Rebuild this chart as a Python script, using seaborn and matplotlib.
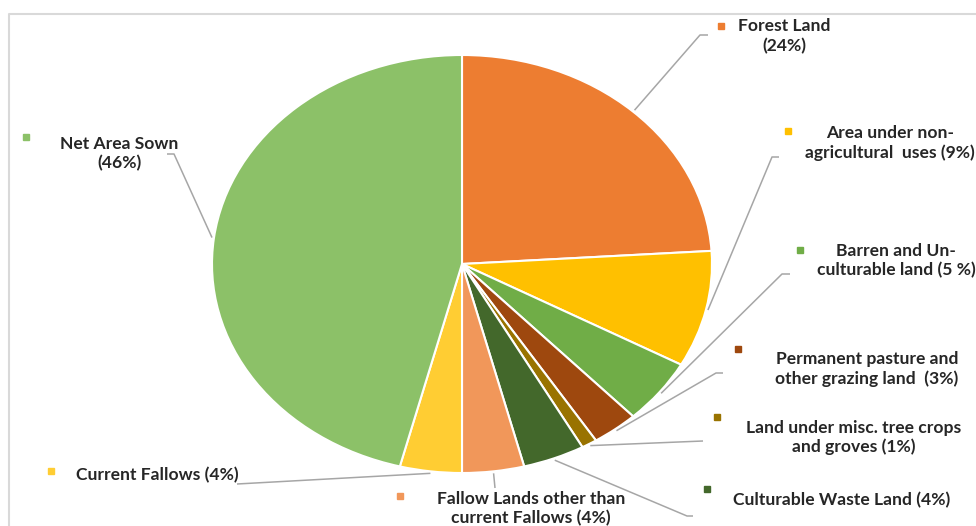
import numpy as np
import matplotlib
matplotlib.use("Agg")
import matplotlib.pyplot as plt
import seaborn as sns

# ---- data ----
categories = ["Forest Land", "Area under non-agricultural uses", "Barren and Un-culturable land",
              "Permanent pasture and other grazing land", "Land under misc. tree crops and groves",
              "Culturable Waste Land", "Fallow Lands other than current Fallows",
              "Current Fallows", "Net Area Sown"]
values = [24, 9, 5, 3, 1, 4, 4, 4, 46]
label_lines = [
    ["Forest Land", "(24%)"],
    ["Area under non-", "agricultural  uses (9%)"],
    ["Barren and Un-", "culturable land (5 %)"],
    ["Permanent pasture and", "other grazing land  (3%)"],
    ["Land under misc. tree crops", "and groves (1%)"],
    ["Culturable Waste Land (4%)"],
    ["Fallow Lands other than", "current Fallows (4%)"],
    ["Current Fallows (4%)"],
    ["Net Area Sown", "(46%)"],
]
palette = ["#ED7D31", "#FFC000", "#70AD47", "#9E480E", "#997300",
           "#43682B", "#F1975A", "#FFCD33", "#8CC168"]

sns.set_theme(style="white")
plt.rcParams["font.family"] = ["Lato", "DejaVu Sans"]

W, H = 976, 526
fig = plt.figure(figsize=(W / 100, H / 100), dpi=100)

# pie geometry in pixels (elliptical pie)
cx, cy, rx, ry = 462, 264, 250, 209
pie_ax = fig.add_axes([(cx - rx) / W, (H - (cy + ry)) / H, 2 * rx / W, 2 * ry / H])
wedges, _ = pie_ax.pie(values, colors=palette, startangle=90, counterclock=False,
                       wedgeprops=dict(edgecolor="white", linewidth=1.5))
pie_ax.set_aspect("auto")
pie_ax.set_xlim(-1, 1)
pie_ax.set_ylim(-1, 1)
pie_ax.axis("off")

# overlay in pixel coordinates
ov = fig.add_axes([0, 0, 1, 1], facecolor="none")
ov.set_xlim(0, W)
ov.set_ylim(H, 0)
ov.axis("off")

# chart frame (partially visible)
ov.plot([9, 9, W + 5], [H + 5, 13.5, 13.5], color="#D9D9D9", lw=1.5, clip_on=False)

# label layout: (center x, first line y, line gap, marker x, marker y, leader elbow points)
layout = [
    (784, 26, 20, 721, 26, [(708, 35), (700, 35)]),
    (890, 133, 20, 788, 131, [(779, 157), (772, 157)]),
    (896, 251, 19, 800, 250, [(790, 274), (782, 274)]),
    (867, 359, 20, 738, 349, [(723, 373), (716, 373)]),
    (854, 428, 19, 717, 417, [(703, 441)]),
    (842, 500, 20, 707, 489, [(693, 516), (687, 516)]),
    (531, 499, 19, 400, 496, [(495, 488)]),
    (157, 475, 20, 51, 471, [(237, 484)]),
    (119, 144, 19, 26, 137, [(167, 154), (174, 154)]),
]

leader_color = "#A6A6A6"
for w, lines, (tx, ty, gap, mx, my, elbow), col in zip(wedges, label_lines, layout, palette):
    ang = np.deg2rad((w.theta1 + w.theta2) / 2)
    px = cx + (rx + 2) * np.cos(ang)
    py = cy - (ry + 2) * np.sin(ang)
    xs = [p[0] for p in elbow] + [px]
    ys = [p[1] for p in elbow] + [py]
    ov.plot(xs, ys, color=leader_color, lw=1.1, solid_capstyle="butt")
    ov.plot([mx], [my], marker="s", markersize=5, color=col, linestyle="none")
    for i, line in enumerate(lines):
        ov.text(tx, ty + i * gap, line, ha="center", va="center", fontsize=12.6,
                fontweight="bold", color="#262626")

fig.savefig("out.png", dpi=100)
